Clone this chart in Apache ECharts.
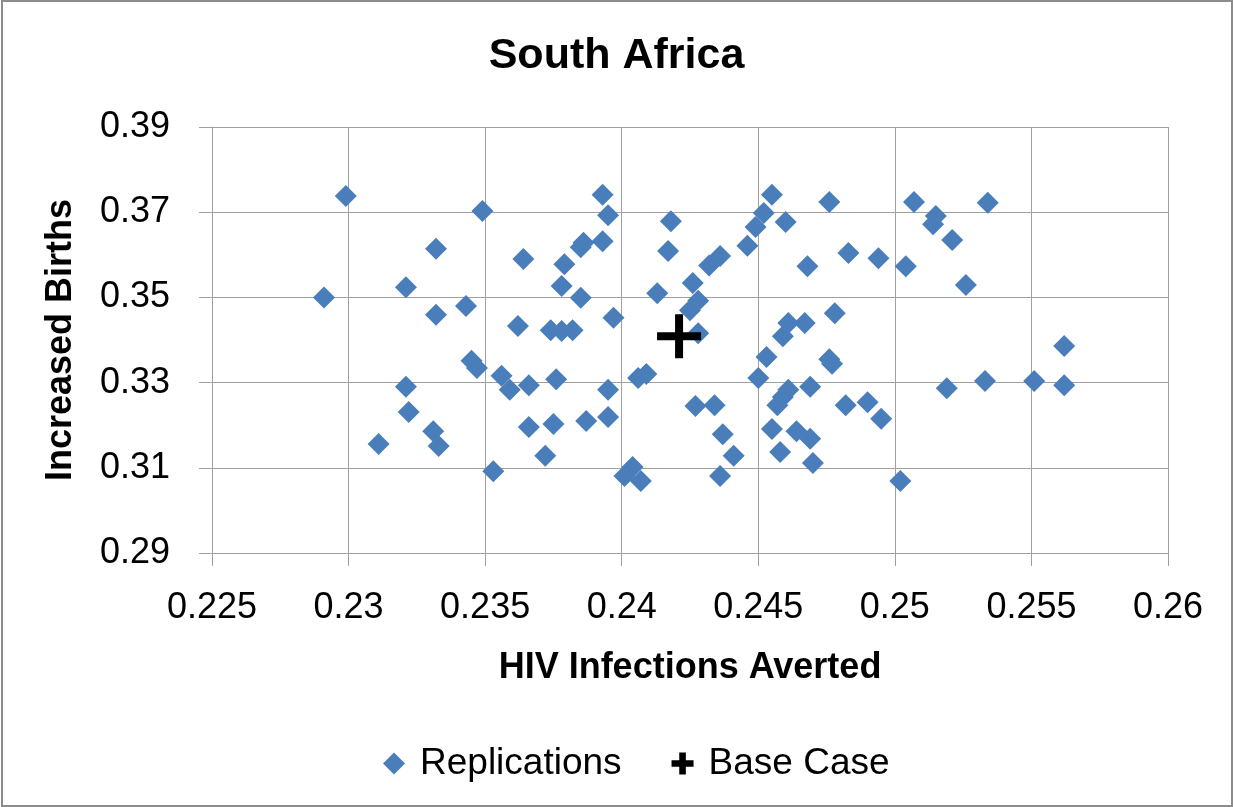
<!DOCTYPE html>
<head>
	<meta charset="utf-8">
	<title>South Africa</title>
	<script src="https://cdn.jsdelivr.net/npm/echarts@6/dist/echarts.min.js"></script>
	<style>
		html, body {margin: 0; padding: 0; background: #ffffff;}
	</style>
</head>
<body>
	<div id="main" style="width:1233px; height:807px"></div>
	<script type="text/javascript">
	// tick values of both axes
	var xTicks = [0.225, 0.23, 0.235, 0.24, 0.245, 0.25, 0.255, 0.26];
	var yTicks = [0.29, 0.31, 0.33, 0.35, 0.37, 0.39];

	// replications
	var repX = [
		0.2291, 0.2299, 0.2321, 0.2332, 0.2332, 0.2343, 0.2345, 0.2347, 0.2349, 0.2321,
		0.2322, 0.2311, 0.2331, 0.2333, 0.2353, 0.2356, 0.2359, 0.2362, 0.2364, 0.2366,
		0.2366, 0.2372, 0.2375, 0.2374, 0.2376, 0.2378, 0.2379, 0.2378, 0.2382, 0.2385,
		0.2386, 0.2385, 0.2387, 0.2393, 0.2393, 0.2395, 0.2395, 0.2395, 0.2397, 0.2401,
		0.2404, 0.2406, 0.2407, 0.2409, 0.2413, 0.2417, 0.2418, 0.2425, 0.2426, 0.2428,
		0.2427, 0.2428, 0.2432, 0.2436, 0.2434, 0.2437, 0.2436, 0.2441, 0.2446, 0.2449,
		0.2452, 0.2455, 0.2450, 0.2453, 0.2455, 0.2457, 0.2458, 0.2459, 0.2459, 0.2460,
		0.2461, 0.2461, 0.2464, 0.2467, 0.2468, 0.2469, 0.2469, 0.2470, 0.2476, 0.2476,
		0.2477, 0.2478, 0.2482, 0.2483, 0.2490, 0.2494, 0.2495, 0.2502, 0.2504, 0.2507,
		0.2514, 0.2515, 0.2519, 0.2521, 0.2526, 0.2534, 0.2533, 0.2551, 0.2562, 0.2562
	];
	var repY = [
		0.3500, 0.3738, 0.3524, 0.3614, 0.3459, 0.3480, 0.3351, 0.3334, 0.3703, 0.3290,
		0.3231, 0.3156, 0.3186, 0.3151, 0.3092, 0.3316, 0.3283, 0.3433, 0.3590, 0.3294,
		0.3196, 0.3128, 0.3203, 0.3423, 0.3308, 0.3527, 0.3578, 0.3421, 0.3423, 0.3618,
		0.3628, 0.3499, 0.3210, 0.3632, 0.3741, 0.3219, 0.3283, 0.3693, 0.3452, 0.3081,
		0.3102, 0.3311, 0.3069, 0.3320, 0.3510, 0.3609, 0.3679, 0.3470, 0.3534, 0.3492,
		0.3245, 0.3416, 0.3575, 0.3597, 0.3247, 0.3179, 0.3081, 0.3128, 0.3621, 0.3665,
		0.3698, 0.3741, 0.3311, 0.3360, 0.3191, 0.3247, 0.3137, 0.3266, 0.3409, 0.3677,
		0.3440, 0.3283, 0.3186, 0.3440, 0.3573, 0.3290, 0.3168, 0.3111, 0.3724, 0.3355,
		0.3344, 0.3463, 0.3247, 0.3604, 0.3254, 0.3592, 0.3215, 0.3069, 0.3573, 0.3724,
		0.3672, 0.3691, 0.3287, 0.3635, 0.3529, 0.3722, 0.3304, 0.3304, 0.3386, 0.3294
	];

	// base case
	var baseX = [0.2421];
	var baseY = [0.3409];

	var repData = repX.map(function (x, i) { return [x, repY[i]]; });
	var baseData = baseX.map(function (x, i) { return [x, baseY[i]]; });

	// 十字形状
	var plusPath = 'path://M4.5,0h2v4.5h4.5v2h-4.5v4.5h-2v-4.5h-4.5v-2h4.5z';
	var plusIcon = 'path://M3.5,0h3v3.5h3.5v3h-3.5v3.5h-3v-3.5h-3.5v-3h3.5z';

	var fontName = '"Liberation Sans", Arial, sans-serif';
	var gridColor = '#a0a0a0';

	function fmt(v) { return String(+v.toFixed(3)); }

	var myChart = echarts.init(document.getElementById('main'));
	var option = {
		backgroundColor: '#ffffff',
		animation: false,
		textStyle: {fontFamily: fontName, color: '#000000'},

		title: {
			text: 'South Africa',
			left: 'center',
			top: 30,
			textStyle: {fontFamily: fontName, fontSize: 43, fontWeight: 'bold', color: '#000000'}
		},

		legend: {
			left: 378,
			top: 740,
			itemWidth: 22,
			itemHeight: 22,
			itemGap: 50,
			textStyle: {fontFamily: fontName, fontSize: 37, color: '#000000', padding: [0, 0, 0, 10]},
			data: [
				{name: 'Replications', icon: 'diamond', itemStyle: {color: '#4a7ebb', opacity: 1}},
				{name: 'Base Case', icon: plusIcon, itemStyle: {color: '#000000', opacity: 1}}
			]
		},

		graphic: [{
			type: 'rect',
			silent: true,
			shape: {x: 2, y: 1, width: 1230, height: 805},
			style: {fill: 'none', stroke: '#8c8c8c', lineWidth: 2}
		}],

		grid: {left: 212, right: 65, top: 127, bottom: 254},

		xAxis: {
			type: 'value',
			min: xTicks[0],
			max: xTicks[xTicks.length - 1],
			interval: +(xTicks[1] - xTicks[0]).toFixed(4),
			name: 'HIV Infections Averted',
			nameLocation: 'middle',
			nameGap: 97,
			nameTextStyle: {fontFamily: fontName, fontSize: 36, fontWeight: 'bold', color: '#000000'},
			axisLine: {show: true, lineStyle: {color: gridColor, width: 1}},
			axisTick: {show: true, length: 13, lineStyle: {color: gridColor}},
			axisLabel: {formatter: fmt, margin: 37, fontSize: 36, color: '#000000', fontFamily: fontName},
			splitLine: {show: true, lineStyle: {color: gridColor, width: 1}}
		},

		yAxis: {
			type: 'value',
			min: yTicks[0],
			max: yTicks[yTicks.length - 1],
			interval: +(yTicks[1] - yTicks[0]).toFixed(4),
			name: 'Increased Births',
			nameLocation: 'middle',
			nameGap: 133,
			nameTextStyle: {fontFamily: fontName, fontSize: 36, fontWeight: 'bold', color: '#000000'},
			axisLine: {show: true, lineStyle: {color: gridColor, width: 1}},
			axisTick: {show: true, length: 13, lineStyle: {color: gridColor}},
			axisLabel: {formatter: fmt, margin: 42, fontSize: 36, color: '#000000', fontFamily: fontName},
			splitLine: {show: true, lineStyle: {color: gridColor, width: 1}}
		},

		series: [
			{
				name: 'Replications',
				type: 'scatter',
				symbol: 'diamond',
				symbolSize: 22,
				itemStyle: {color: '#4a7ebb', opacity: 1},
				data: repData
			},
			{
				name: 'Base Case',
				type: 'scatter',
				symbol: plusPath,
				symbolSize: 44,
				itemStyle: {color: '#000000', opacity: 1},
				z: 5,
				data: baseData
			}
		]
	};

	myChart.setOption(option);
	</script>
</body>
